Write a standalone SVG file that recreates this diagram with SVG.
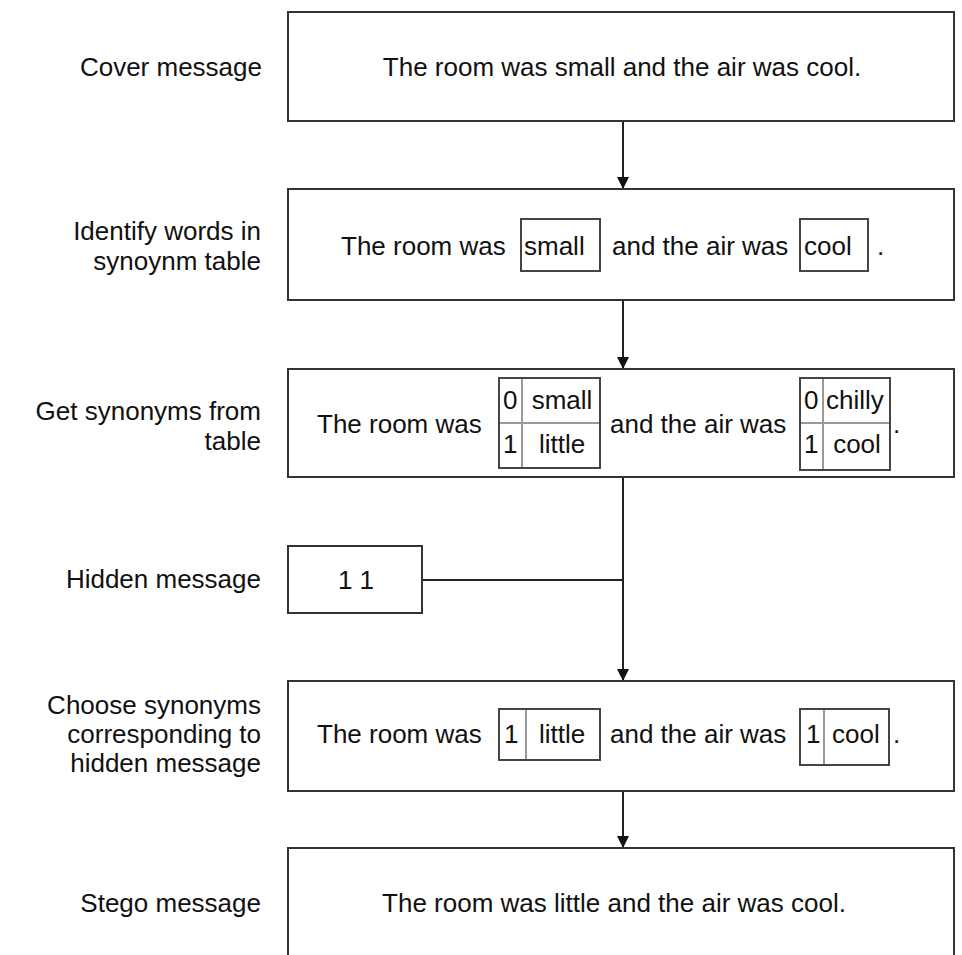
<svg xmlns="http://www.w3.org/2000/svg" width="962" height="955" viewBox="0 0 962 955">
  <style>
    text { font-family: "Liberation Sans", Arial, sans-serif; font-size: 26px; fill: #111; }
    .lbl { text-anchor: end; }
    .mid { text-anchor: middle; }
    .box { fill: #fff; stroke: #333; stroke-width: 2; }
    .cell { fill: none; stroke: #444; stroke-width: 2; }
    .div { fill: none; stroke: #999; stroke-width: 2; }
    .edge { fill: none; stroke: #222; stroke-width: 2; }
  </style>
  <defs>
    <marker id="arrow" markerWidth="12" markerHeight="14" refX="11" refY="6" orient="auto" markerUnits="userSpaceOnUse">
      <path d="M0,0 L12,6 L0,12 Z" fill="#111"/>
    </marker>
  </defs>
  <rect width="962" height="955" fill="#fff"/>

  <!-- step labels -->
  <g id="labels">
    <text class="lbl" x="262" y="76">Cover message</text>
    <text class="lbl" x="261" y="240">Identify words in</text>
    <text class="lbl" x="261" y="270">synoynm table</text>
    <text class="lbl" x="261" y="420">Get synonyms from</text>
    <text class="lbl" x="261" y="450">table</text>
    <text class="lbl" x="261" y="588">Hidden message</text>
    <text class="lbl" x="261" y="714">Choose synonyms</text>
    <text class="lbl" x="261" y="743">corresponding to</text>
    <text class="lbl" x="261" y="772">hidden message</text>
    <text class="lbl" x="261" y="912">Stego message</text>
  </g>

  <!-- connectors -->
  <g id="connectors">
    <line class="edge" x1="623" y1="122" x2="623" y2="188" marker-end="url(#arrow)"/>
    <line class="edge" x1="623" y1="300" x2="623" y2="368" marker-end="url(#arrow)"/>
    <line class="edge" x1="623" y1="478" x2="623" y2="680" marker-end="url(#arrow)"/>
    <line class="edge" x1="422" y1="580" x2="623" y2="580"/>
    <line class="edge" x1="623" y1="791" x2="623" y2="847" marker-end="url(#arrow)"/>
  </g>

  <g id="cover">
    <rect class="box" x="288" y="12" width="666" height="109"/>
    <text class="mid" x="622" y="76">The room was small and the air was cool.</text>
  </g>

  <g id="identify">
    <rect class="box" x="288" y="189" width="666" height="111"/>
    <text x="341" y="255">The room was</text>
    <rect class="cell" x="521" y="219" width="79" height="52"/>
    <text x="524" y="255">small</text>
    <text x="612" y="255">and the air was</text>
    <rect class="cell" x="800" y="219" width="68" height="52"/>
    <text x="804" y="255">cool</text>
    <text x="877" y="255">.</text>
  </g>

  <g id="synonyms">
    <rect class="box" x="288" y="369" width="666" height="108"/>
    <text x="317" y="433">The room was</text>
    <rect class="cell" x="499" y="378" width="101" height="90"/>
    <line class="div" x1="522" y1="379" x2="522" y2="467"/>
    <line class="div" x1="500" y1="423" x2="599" y2="423"/>
    <text x="503" y="409">0</text>
    <text class="mid" x="562" y="409">small</text>
    <text x="503" y="453">1</text>
    <text class="mid" x="562" y="453">little</text>
    <text x="610" y="433">and the air was</text>
    <rect class="cell" x="800" y="378" width="90" height="92"/>
    <line class="div" x1="823" y1="379" x2="823" y2="469"/>
    <line class="div" x1="801" y1="423" x2="889" y2="423"/>
    <text x="804" y="409">0</text>
    <text x="826" y="409">chilly</text>
    <text x="804" y="453">1</text>
    <text class="mid" x="857" y="453">cool</text>
    <text x="893" y="433">.</text>
  </g>

  <g id="hidden">
    <rect class="box" x="288" y="546" width="134" height="67"/>
    <text class="mid" x="356" y="589">1 1</text>
  </g>

  <g id="choose">
    <rect class="box" x="288" y="681" width="666" height="110"/>
    <text x="317" y="743">The room was</text>
    <rect class="cell" x="499" y="709" width="101" height="51"/>
    <line class="div" x1="526" y1="710" x2="526" y2="759"/>
    <text x="504" y="743">1</text>
    <text class="mid" x="562" y="743">little</text>
    <text x="610" y="743">and the air was</text>
    <rect class="cell" x="800" y="709" width="89" height="56"/>
    <line class="div" x1="824" y1="710" x2="824" y2="764"/>
    <text x="806" y="743">1</text>
    <text x="832" y="743">cool</text>
    <text x="893" y="743">.</text>
  </g>

  <g id="stego">
    <rect class="box" x="288" y="848" width="666" height="120"/>
    <text class="mid" x="614" y="912">The room was little and the air was cool.</text>
  </g>
</svg>
